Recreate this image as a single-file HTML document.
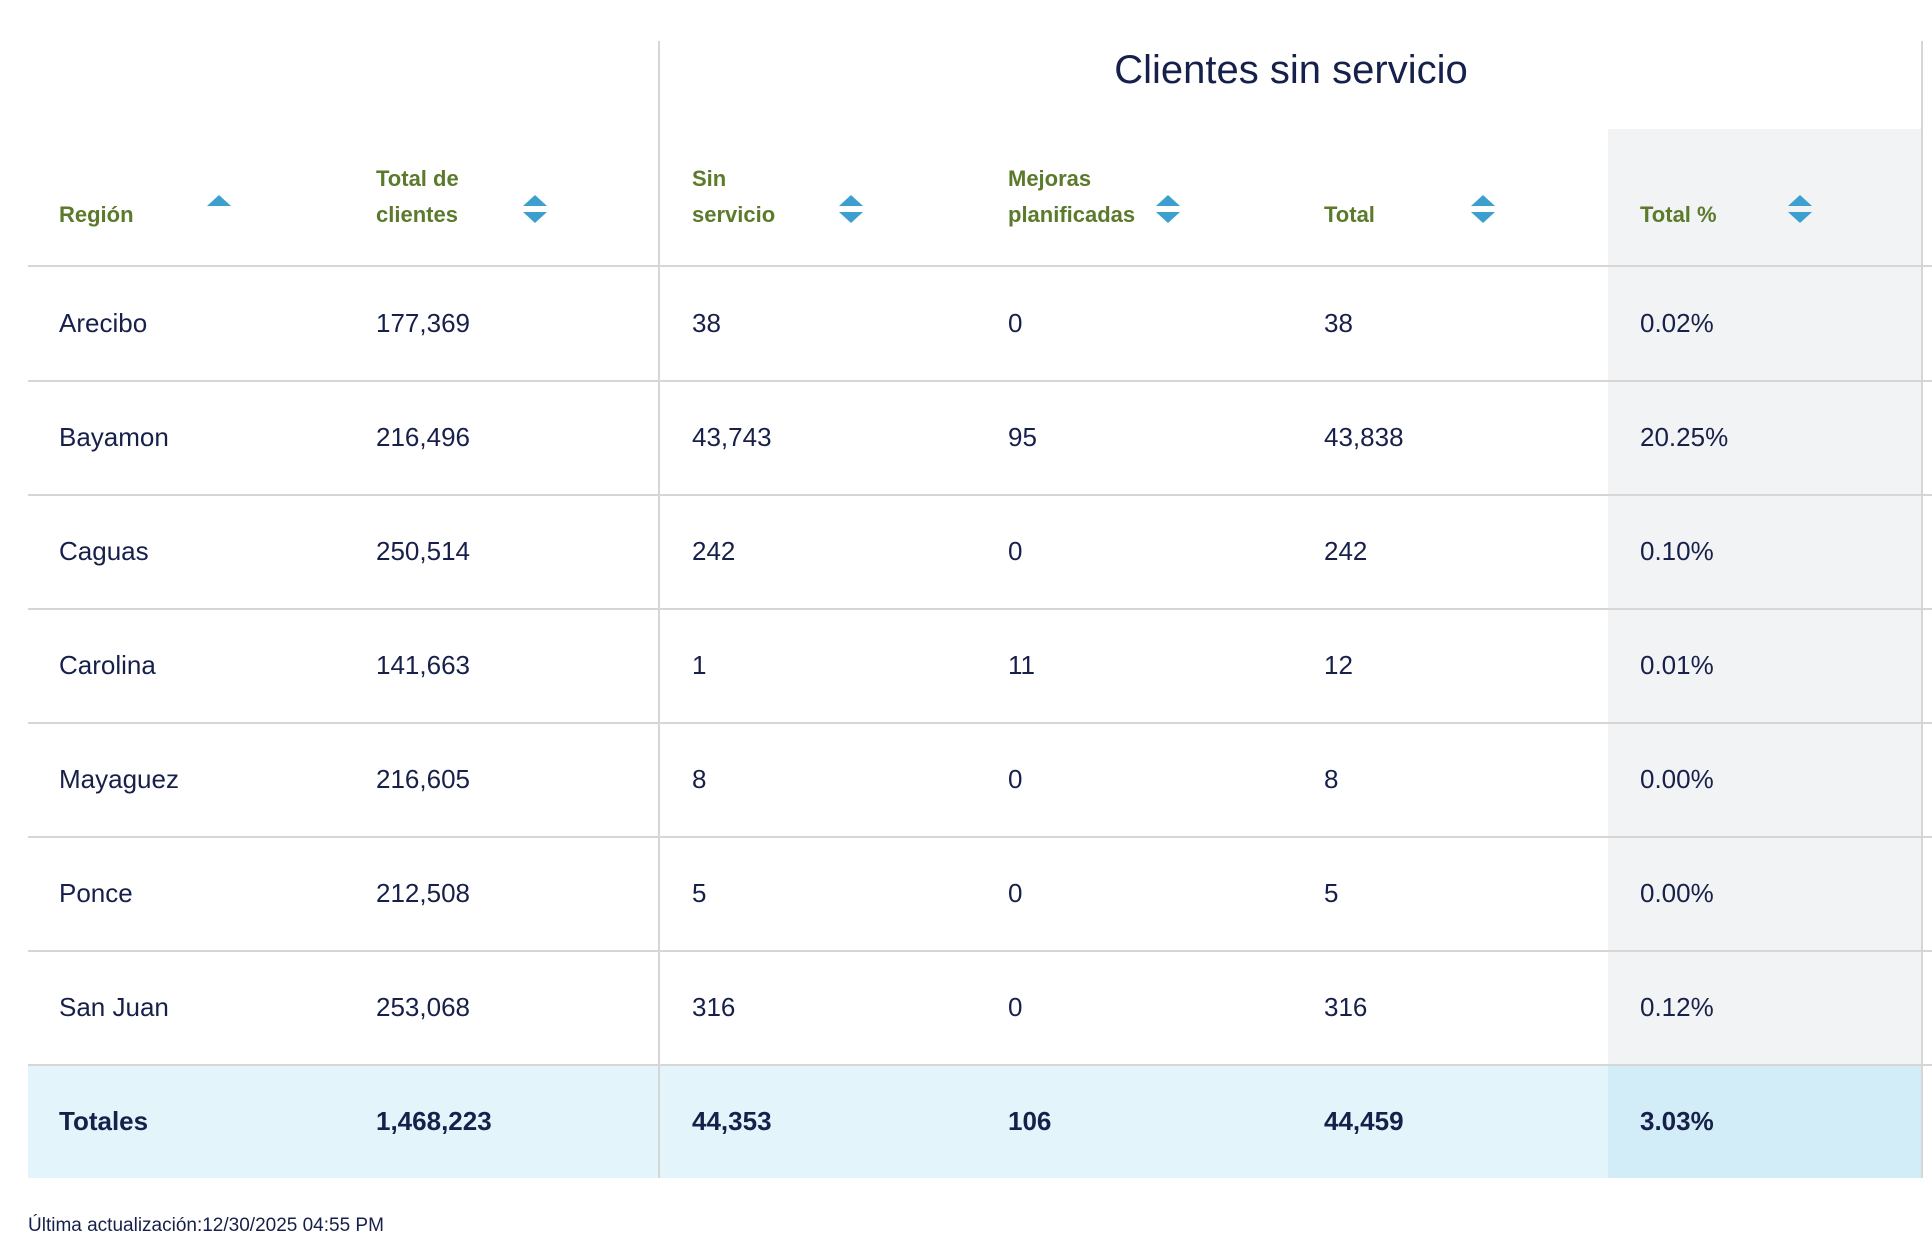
<!DOCTYPE html>
<html><head><meta charset="utf-8"><style>
body{margin:0;width:1932px;height:1256px;background:#fff;font-family:"Liberation Sans",sans-serif;color:#17204a;position:relative;overflow:hidden}
.a{position:absolute}
.t{position:absolute;font-size:26px;line-height:30px}
.h{position:absolute;font-size:22px;line-height:36px;font-weight:bold;color:#5b7a2c}
.hl{position:absolute;left:28px;width:1904px;height:2px;background:#d6d6d6}
.up{position:absolute;width:0;height:0;border-left:12px solid transparent;border-right:12px solid transparent;border-bottom:11px solid #3d9fce}
.dn{position:absolute;width:0;height:0;border-left:12px solid transparent;border-right:12px solid transparent;border-top:11px solid #3d9fce}
b{font-weight:bold}
</style></head><body>
<div class="a" style="left:1608px;top:129px;width:314px;height:936px;background:#f2f3f4"></div>
<div class="a" style="left:28px;top:1065px;width:1894px;height:113px;background:#e3f4fb"></div>
<div class="a" style="left:1608px;top:1065px;width:314px;height:113px;background:#d3edf8"></div>
<div class="a" style="left:658px;top:41px;width:2px;height:1137px;background:#d6d6d6"></div>
<div class="a" style="left:1921px;top:41px;width:2px;height:1137px;background:#d6d6d6"></div>
<div class="a" style="left:660px;width:1262px;top:48px;text-align:center;font-size:40px;line-height:44px">Clientes sin servicio</div>

<div class="h" style="left:59px;top:197px">Región</div>
<div class="h" style="left:376px;top:161px">Total de<br>clientes</div>
<div class="h" style="left:692px;top:161px">Sin<br>servicio</div>
<div class="h" style="left:1008px;top:161px">Mejoras<br>planificadas</div>
<div class="h" style="left:1324px;top:197px">Total</div>
<div class="h" style="left:1640px;top:197px">Total %</div>
<div class="up" style="left:207px;top:195px"></div>
<div class="up" style="left:523px;top:195px"></div><div class="dn" style="left:523px;top:212px"></div>
<div class="up" style="left:839px;top:195px"></div><div class="dn" style="left:839px;top:212px"></div>
<div class="up" style="left:1156px;top:195px"></div><div class="dn" style="left:1156px;top:212px"></div>
<div class="up" style="left:1471px;top:195px"></div><div class="dn" style="left:1471px;top:212px"></div>
<div class="up" style="left:1788px;top:195px"></div><div class="dn" style="left:1788px;top:212px"></div>

<div class="hl" style="top:265px"></div>
<div class="hl" style="top:380px"></div>
<div class="hl" style="top:494px"></div>
<div class="hl" style="top:608px"></div>
<div class="hl" style="top:722px"></div>
<div class="hl" style="top:836px"></div>
<div class="hl" style="top:950px"></div>
<div class="hl" style="top:1064px"></div>

<div class="t" style="left:59px;top:308px">Arecibo</div><div class="t" style="left:376px;top:308px">177,369</div><div class="t" style="left:692px;top:308px">38</div><div class="t" style="left:1008px;top:308px">0</div><div class="t" style="left:1324px;top:308px">38</div><div class="t" style="left:1640px;top:308px">0.02%</div>
<div class="t" style="left:59px;top:422px">Bayamon</div><div class="t" style="left:376px;top:422px">216,496</div><div class="t" style="left:692px;top:422px">43,743</div><div class="t" style="left:1008px;top:422px">95</div><div class="t" style="left:1324px;top:422px">43,838</div><div class="t" style="left:1640px;top:422px">20.25%</div>
<div class="t" style="left:59px;top:536px">Caguas</div><div class="t" style="left:376px;top:536px">250,514</div><div class="t" style="left:692px;top:536px">242</div><div class="t" style="left:1008px;top:536px">0</div><div class="t" style="left:1324px;top:536px">242</div><div class="t" style="left:1640px;top:536px">0.10%</div>
<div class="t" style="left:59px;top:650px">Carolina</div><div class="t" style="left:376px;top:650px">141,663</div><div class="t" style="left:692px;top:650px">1</div><div class="t" style="left:1008px;top:650px">11</div><div class="t" style="left:1324px;top:650px">12</div><div class="t" style="left:1640px;top:650px">0.01%</div>
<div class="t" style="left:59px;top:764px">Mayaguez</div><div class="t" style="left:376px;top:764px">216,605</div><div class="t" style="left:692px;top:764px">8</div><div class="t" style="left:1008px;top:764px">0</div><div class="t" style="left:1324px;top:764px">8</div><div class="t" style="left:1640px;top:764px">0.00%</div>
<div class="t" style="left:59px;top:878px">Ponce</div><div class="t" style="left:376px;top:878px">212,508</div><div class="t" style="left:692px;top:878px">5</div><div class="t" style="left:1008px;top:878px">0</div><div class="t" style="left:1324px;top:878px">5</div><div class="t" style="left:1640px;top:878px">0.00%</div>
<div class="t" style="left:59px;top:992px">San Juan</div><div class="t" style="left:376px;top:992px">253,068</div><div class="t" style="left:692px;top:992px">316</div><div class="t" style="left:1008px;top:992px">0</div><div class="t" style="left:1324px;top:992px">316</div><div class="t" style="left:1640px;top:992px">0.12%</div>
<div class="t" style="left:59px;top:1106px"><b>Totales</b></div><div class="t" style="left:376px;top:1106px"><b>1,468,223</b></div><div class="t" style="left:692px;top:1106px"><b>44,353</b></div><div class="t" style="left:1008px;top:1106px"><b>106</b></div><div class="t" style="left:1324px;top:1106px"><b>44,459</b></div><div class="t" style="left:1640px;top:1106px"><b>3.03%</b></div>

<div class="a" style="left:28px;top:1214px;font-size:19px;line-height:24px">Última actualización:12/30/2025 04:55 PM</div>
</body></html>
